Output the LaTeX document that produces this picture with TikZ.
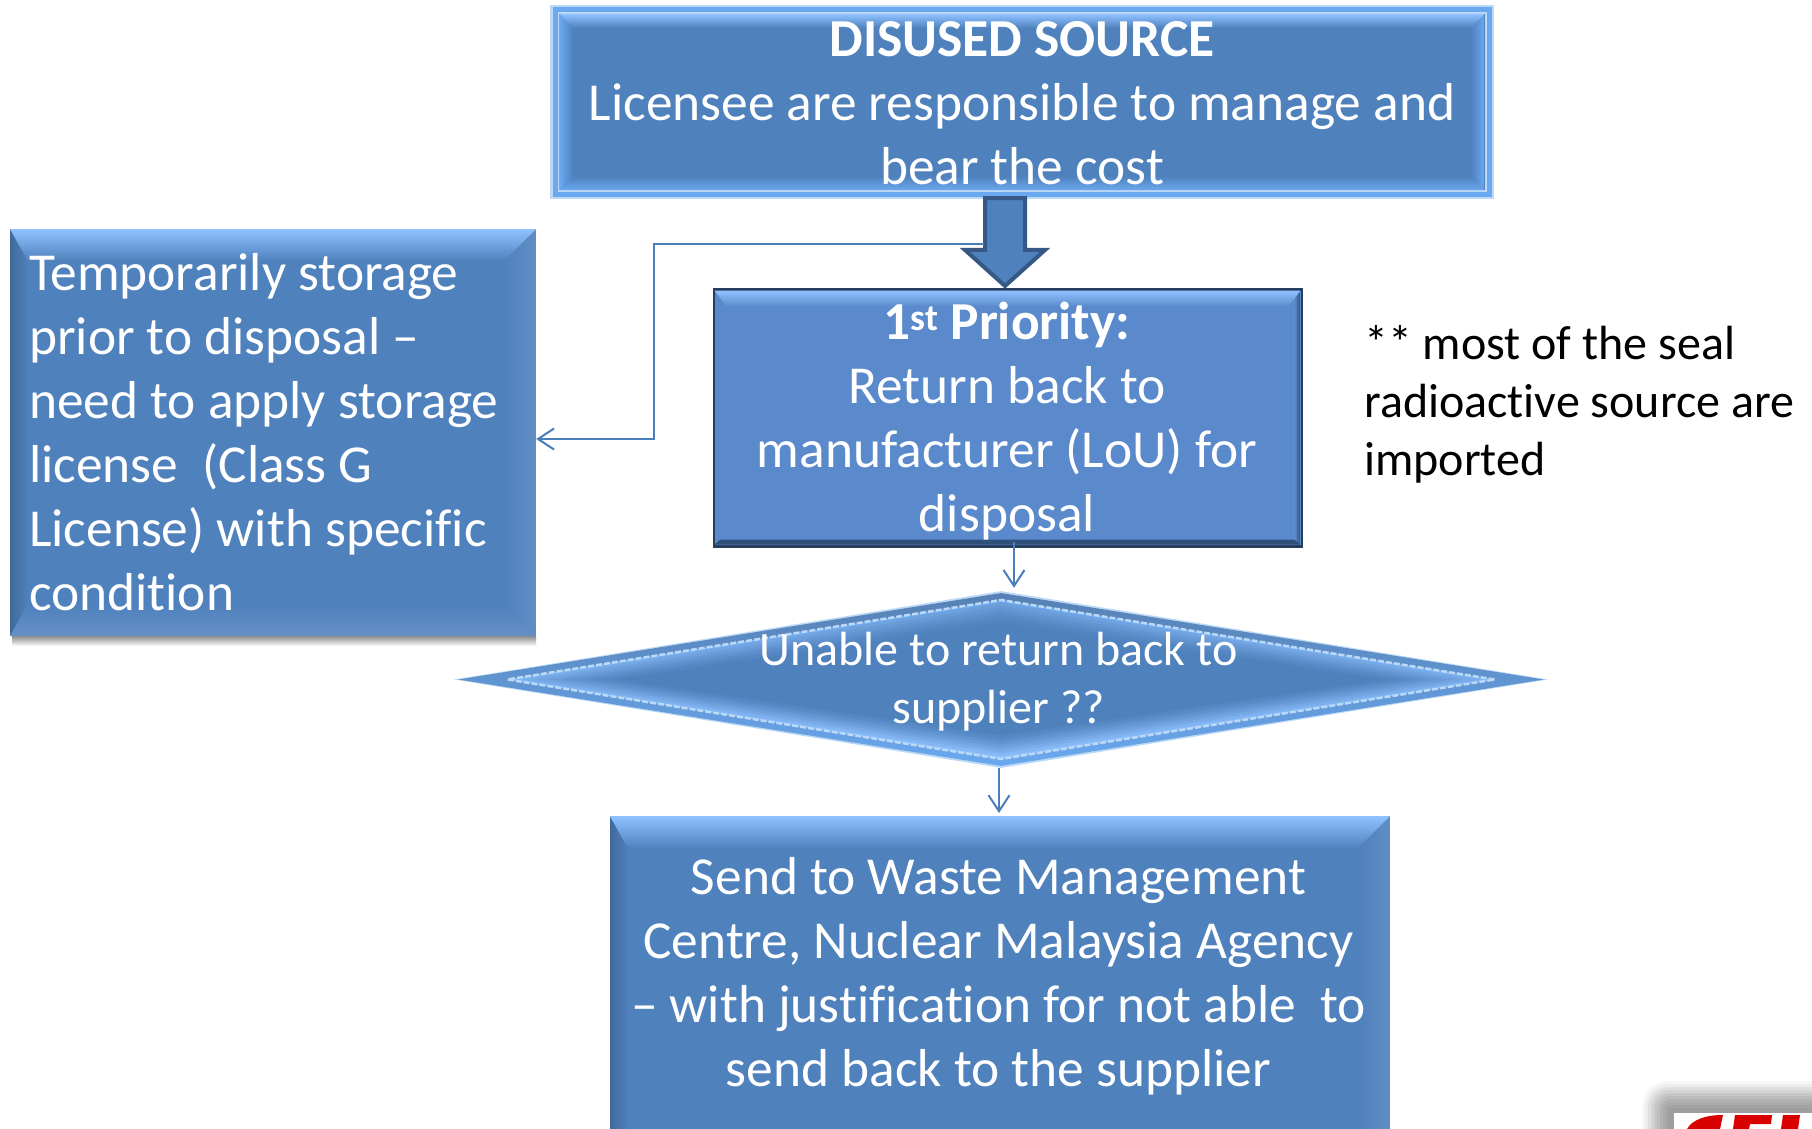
\documentclass[tikz,border=0pt]{standalone}
\usepackage{fontspec}
\setmainfont{Carlito}[Ligatures=NoCommon]
\usetikzlibrary{shapes.geometric,shapes.arrows,arrows.meta,positioning}
\definecolor{baseblue}{HTML}{4F81BD}
\definecolor{prioblue}{HTML}{5A8ACB}
\definecolor{liteblue}{HTML}{8FC2FF}
\definecolor{paleblue}{HTML}{BBD8F5}
\definecolor{rimblue}{HTML}{6AA8EF}
\definecolor{darkblue}{HTML}{2F4E78}
\definecolor{linkblue}{HTML}{4A7EBB}
\tikzset{
boxtext/.style={
  text=white,
  align=center,
  inner sep=0pt,
  font=\fontsize{53.4}{64}\selectfont
  },
bevelbox/.style={
  rectangle,
  inner sep=0pt,
  fill=baseblue,
  path picture={
    \coordinate (nw) at (path picture bounding box.north west);
    \coordinate (ne) at (path picture bounding box.north east);
    \coordinate (sw) at (path picture bounding box.south west);
    \coordinate (se) at (path picture bounding box.south east);
    \shade[left color=baseblue!82!black, right color=baseblue] (nw) -- (sw) -- ([shift={(18pt,#1)}]sw) -- ([shift={(18pt,-#1)}]nw) -- cycle;
    \shade[left color=baseblue, right color=baseblue!90!white] (ne) -- (se) -- ([shift={(-#1,#1)}]se) -- ([shift={(-#1,-#1)}]ne) -- cycle;
    \shade[top color=baseblue, bottom color=baseblue!88!white] (sw) -- (se) -- ([shift={(-#1,#1)}]se) -- ([shift={(18pt,#1)}]sw) -- cycle;
    \shade[top color=liteblue,bottom color=baseblue] (nw) -- (ne) -- ([shift={(-#1,-#1)}]ne) -- ([shift={(18pt,-#1)}]nw) -- cycle;
  }
  },
glowbox/.style={
  rectangle,
  inner sep=0pt,
  fill=baseblue,
  path picture={
    \coordinate (nw) at (path picture bounding box.north west);
    \coordinate (ne) at (path picture bounding box.north east);
    \coordinate (sw) at (path picture bounding box.south west);
    \coordinate (se) at (path picture bounding box.south east);
    \shade[left color=rimblue, right color=baseblue] (nw) -- (sw) -- ([shift={(#1,#1)}]sw) -- ([shift={(#1,-#1)}]nw) -- cycle;
    \shade[left color=baseblue, right color=rimblue] (ne) -- (se) -- ([shift={(-#1,#1)}]se) -- ([shift={(-#1,-#1)}]ne) -- cycle;
    \shade[top color=baseblue, bottom color=rimblue] (sw) -- (se) -- ([shift={(-#1,#1)}]se) -- ([shift={(#1,#1)}]sw) -- cycle;
    \shade[top color=liteblue,bottom color=baseblue] (nw) -- (ne) -- ([shift={(-#1,-#1)}]ne) -- ([shift={(#1,-#1)}]nw) -- cycle;
  }
  },
flatdiamond/.style={
  diamond,
  aspect=6.2,
  inner sep=0pt
  },
thinlink/.style={
  draw=linkblue,
  line width=2pt,
  -{Straight Barb[length=16pt,width=21pt,line width=2pt]}
  }
}

\begin{document}
\begin{tikzpicture}[x=1pt, y=-1pt]
\useasboundingbox (0,0) rectangle (1812,1129);
\clip (0,0) rectangle (1812,1129);

% top box
\node[rectangle, fill=paleblue, minimum width=944pt, minimum height=194pt]
  (sourceedge) at (1022,102) {};
\node[rectangle, fill=rimblue, minimum width=939pt, minimum height=189pt]
  (sourcerim) at (1022,102) {};
\node[rectangle, fill=paleblue, minimum width=929pt, minimum height=180pt]
  (sourceline) at (1022,102) {};
\node[glowbox=14pt, minimum width=925pt, minimum height=176pt]
  (source) at (1022,102) {};
\node[boxtext] (sourcetext) at (1022,103)
  {\textbf{DISUSED SOURCE}\\Licensee are responsible to manage and\\bear the cost};

% left box with its shadow
\shade[top color=black!45, bottom color=white] (12,636) rectangle (536,646);
\node[bevelbox=32pt, minimum width=526pt, minimum height=407pt]
  (storage) at (273,432.5) {};
\node[boxtext, align=left, anchor=west] (storagetext) at (29,432)
  {Temporarily storage\\prior to disposal --\\need to apply storage\\license \ (Class G\\License) with specific\\condition};

% 1st priority box
\node[rectangle, fill=darkblue!80!black, minimum width=590pt, minimum height=260pt]
  (prioedge) at (1007.5,417.5) {};
\node[rectangle, inner sep=0pt, fill=prioblue, minimum width=586pt, minimum height=254pt,
  path picture={
    \shade[top color=prioblue,bottom color=darkblue]
      (path picture bounding box.south west) -- (path picture bounding box.south east)
      -- ([shift={(-6pt,5pt)}]path picture bounding box.south east)
      -- ([shift={(6pt,5pt)}]path picture bounding box.south west) -- cycle;
    \shade[left color=prioblue,right color=darkblue]
      (path picture bounding box.north east) -- (path picture bounding box.south east)
      -- ([shift={(-6pt,5pt)}]path picture bounding box.south east)
      -- ([shift={(-6pt,-5pt)}]path picture bounding box.north east) -- cycle;
    \shade[top color=liteblue,bottom color=prioblue]
      (path picture bounding box.north west) -- (path picture bounding box.north east)
      -- ([shift={(-12pt,-16pt)}]path picture bounding box.north east)
      -- ([shift={(12pt,-16pt)}]path picture bounding box.north west) -- cycle;
  }]
  (prio) at (1007.5,417.5) {};
\node[boxtext] (priotext) at (1007,421)
  {\textbf{1\textsuperscript{st} Priority:}\\Return back to\\manufacturer (LoU) for\\disposal};

% note on the right
\node[anchor=west, align=left, inner sep=0pt, font=\fontsize{48}{58}\selectfont]
  (note) at (1364,404)
  {** most of the seal\\radioactive source are\\imported};

% big arrow
\node[single arrow, rotate=-90, draw=darkblue!80!baseblue, line width=4pt, fill=baseblue,
  minimum height=88pt, single arrow head extend=20pt, single arrow tip angle=96,
  single arrow head indent=0pt, inner sep=0pt]
  (bigarrow) at (1005,233) {\rule{0pt}{36pt}};

% diamond
\node[flatdiamond, fill=paleblue, minimum width=1094pt, minimum height=177pt]
  (unableedge) at (1001,679.5) {};
\node[flatdiamond, top color=baseblue!85!gray, bottom color=rimblue, minimum width=1086pt, minimum height=173pt]
  (unable) at (1001,679.5) {};
\node[flatdiamond, draw=paleblue, dash pattern=on 6pt off 2pt, line width=2.5pt, top color=rimblue, bottom color=liteblue, minimum width=988pt, minimum height=160pt]
  (unableline) at (1001,679.5) {};
\foreach \step/\mixtop/\mixbot in {1/45/85,2/36/70,3/28/56,4/20/42,5/13/30,6/7/18,7/3/9,8/0/0}
  \node[flatdiamond, top color=liteblue!\mixtop!baseblue, bottom color=liteblue!\mixbot!baseblue,
    minimum width=988pt-\step*28pt, minimum height=160pt-\step*6pt]
    (unablein\step) at (1001,679.5) {};
\node[boxtext, font=\fontsize{48}{58}\selectfont] (unabletext) at (998.5,682)
  {Unable to return back to\\supplier ??};

% bottom box, runs off the page
\node[bevelbox=32pt, anchor=north, minimum width=780pt, minimum height=420pt]
  (waste) at (1000,816) {};
\node[boxtext] (wastetext) at (998.5,976)
  {Send to Waste Management\\Centre, Nuclear Malaysia Agency\\-- with justification for not able \ to\\send back to the supplier};

% connectors
\coordinate (branch) at (984,244);
\coordinate (elbow) at (654,439);
\draw[thinlink] (branch) -| (elbow) -- (elbow -| storage.east);
\draw[thinlink] ([xshift=6.5pt,yshift=3pt]prio.south) -- ([xshift=13pt,yshift=3pt]unableedge.north);
\draw[thinlink] ([xshift=-2pt]unableedge.south) -- ([xshift=-1pt,yshift=3pt]waste.north);

% logo corner
\foreach \grow/\shadeval in {32/3,29/7,26/12,23/17,20/22,17/26,14/30,11/33,8/36,5/38}
  \fill[black!\shadeval, rounded corners=\grow*0.8pt]
    (1674-\grow,1113-\grow) rectangle (1850,1160);
\fill[white] (1674,1113) rectangle (1812,1129);
\fill[red!85!black] (1687,1129) .. controls (1692,1120) and (1705,1115) .. (1723,1115)
  -- (1720,1129) -- cycle;
\fill[red!85!black] (1733,1129) -- (1735,1115) -- (1772,1115) -- (1771,1124) -- (1750,1124) -- (1749,1129) -- cycle;
\fill[red!85!black] (1781,1129) -- (1783,1115) -- (1800,1115) -- (1798,1129) -- cycle;
\end{tikzpicture}
\end{document}
